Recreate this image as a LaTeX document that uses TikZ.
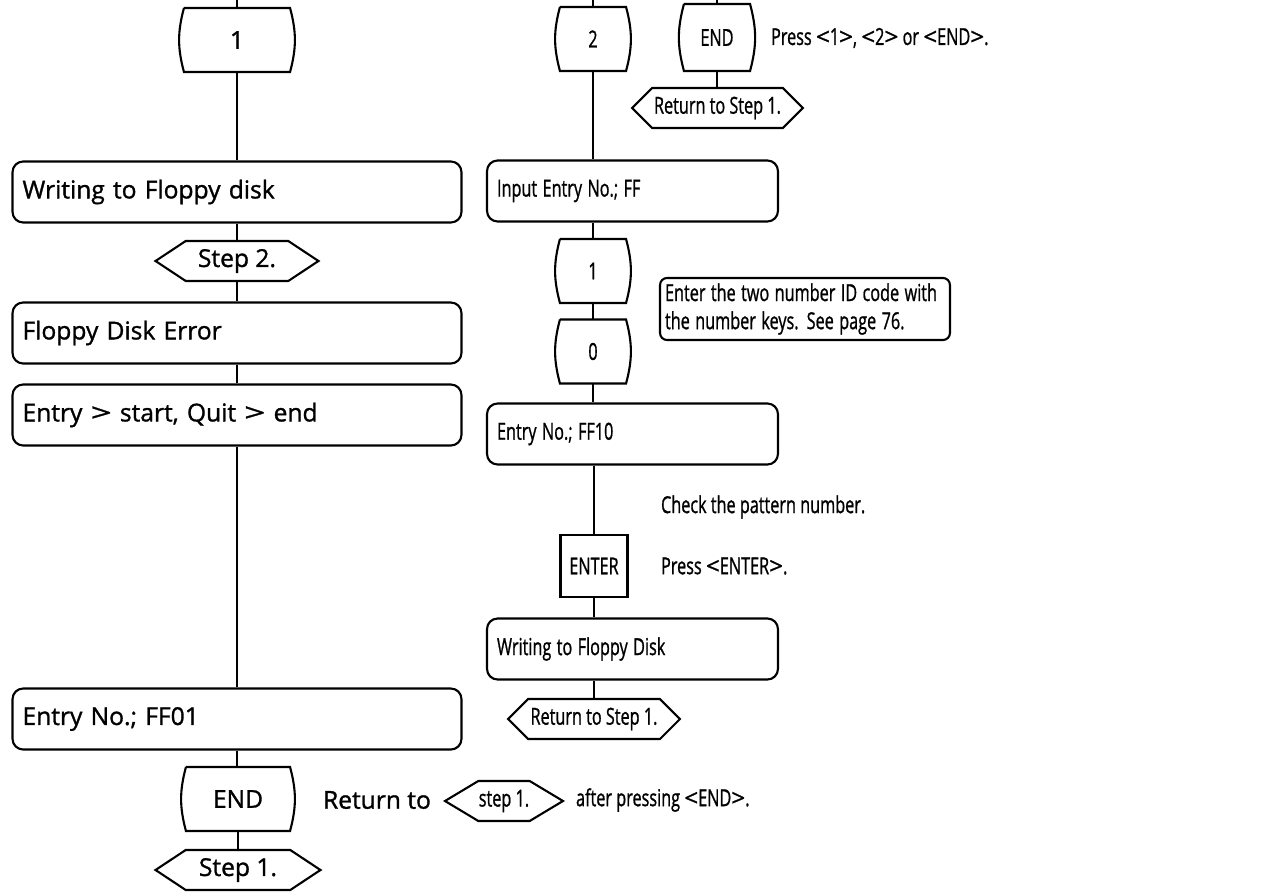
\documentclass[tikz,border=0pt]{standalone}
\usepackage{fontspec}
\setmainfont{Open Sans}[FakeBold=1.2]
\usepackage{graphicx}
\usetikzlibrary{shapes.symbols}

% right half of the page is set narrow
\newcommand{\nar}[1]{\scalebox{0.66}[0.95]{#1}}
\newcommand{\lt}{\scalebox{1.5}[1]{<}}
\newcommand{\gt}{\scalebox{1.5}[1]{>}}

\begin{document}
\begin{tikzpicture}[x=0.02cm,y=-0.02cm,line width=1.2pt,
  every node/.style={font=\fontsize{14}{16}\selectfont,inner sep=0pt},
  box/.style={draw,rounded corners=6pt,minimum height=1.22cm,text width=#1,align=left,inner xsep=0.2cm},
  key/.style={minimum width=#1,minimum height=1.24cm},
  hx/.style={draw,shape=signal,signal to=west and east,signal pointer angle=#1,minimum height=0.8cm},
  note/.style={draw,rounded corners=4pt,align=left,inner xsep=0.1cm,text width=5.6cm,minimum height=1.24cm}]
\useasboundingbox (0,0) rectangle (1279,892);
%------------- left column: key 1
\coordinate (c1) at (237,0);
\node[key=2.08cm] (k1) at (237,40) {1};
\node[box=8.58cm] (w1) at (237,192) {Writing to Floppy disk};
\node[hx=67,minimum width=3.26cm] (s2) at (237,261) {Step 2.};
\node[box=8.58cm] (fe) at (237,333) {Floppy Disk Error};
\node[box=8.58cm] (eq) at (237,415) {Entry \gt\ start, Quit \gt\ end};
\node[box=8.58cm] (e01) at (237,719) {Entry No.; FF01};
\node[key=2.04cm] (ke) at (238,799) {END};
\node[hx=67,minimum width=3.3cm] (s1) at (238,870) {Step 1.};
\node[anchor=west] (rt) at (322,800) {Return to};
\node[hx=62,minimum width=2.36cm] (st) at (504,801) {\nar{step 1.}};
\node[anchor=west] (ap) at (575,800) {\nar{after pressing \lt END\gt.}};
%------------- right column: key END
\coordinate (c3) at (717,0);
\node[key=1.28cm,minimum height=1.3cm] (kx) at (717,37.5) {\nar{END}};
\node[anchor=west] (pr) at (770,38) {\nar{Press \lt 1\gt, \lt 2\gt\ or \lt END\gt.}};
\node[hx=90,minimum width=3.42cm] (rx) at (717.5,108) {\nar{Return to Step 1.}};
%------------- right column: key 2
\coordinate (c2) at (593,0);
\node[key=1.28cm] (k2) at (593,39) {\nar{2}};
\node[box=5.42cm] (ie) at (632.5,191) {\nar{Input Entry No.; FF}};
\node[key=1.28cm] (n1) at (593,271) {\nar{1}};
\node[key=1.28cm] (n0) at (593,351.5) {\nar{0}};
\node[note] (nt) at (805,309) {\nar{Enter the two number ID code with}\\\nar{the number keys. See page 76.}};
\node[box=5.42cm] (e10) at (632.5,434) {\nar{Entry No.; FF10}};
\node[anchor=west] (ck) at (660,507) {\nar{Check the pattern number.}};
\node[draw,minimum width=1.34cm,minimum height=1.24cm] (ent) at (594,566) {\nar{ENTER}};
\node[anchor=west] (pe) at (660,566) {\nar{Press \lt ENTER\gt.}};
\node[box=5.42cm] (wd) at (632.5,649) {\nar{Writing to Floppy Disk}};
\node[hx=90,minimum width=3.44cm] (rs) at (594,719) {\nar{Return to Step 1.}};
%------------- key outlines
\foreach \k in {k1,ke,kx,k2,n1,n0}
  \draw (\k.north west) -- (\k.north east) to[bend left=15] (\k.south east)
    -- (\k.south west) to[bend left=15] (\k.north west);
%------------- connectors
\draw (c1) -- (k1.north);
\draw (c2) -- (k2.north);
\draw (c3) -- (kx.north);
\foreach \a/\b in {k1/w1,w1/s2,s2/fe,fe/eq,eq/e01,e01/ke,ke/s1,kx/rx,k2/ie,n1/n0,n0/e10,ent/wd}
  \draw (\a.south) -- (\a.south |- \b.north);
\foreach \a/\b in {ie/n1,e10/ent,wd/rs}
  \draw (\b.north) -- (\b.north |- \a.south);
\end{tikzpicture}
\end{document}
